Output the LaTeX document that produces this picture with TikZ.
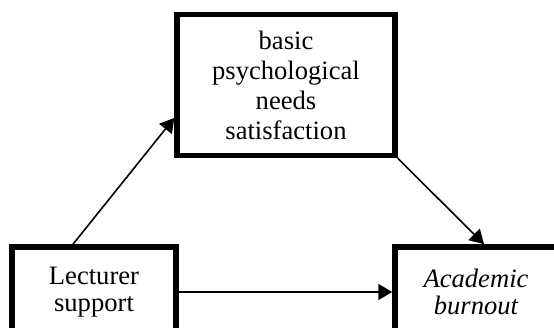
\documentclass[tikz,border=0pt]{standalone}
\usepackage{fontspec}
\setmainfont{Liberation Serif}
\usetikzlibrary{arrows.meta}

\begin{document}
\begin{tikzpicture}[x=1pt,y=1pt,
  box/.style={draw,line width=5.5pt,rectangle,align=center,inner sep=0pt},
  link/.style={-{Triangle[length=14pt,width=16pt]},line width=1.6pt}]
\useasboundingbox (0,0) rectangle (554,328);

%boxes
\node[box,minimum width=218,minimum height=141,font=\fontsize{26.6}{30}\selectfont] (needs) at (286,243)
  {basic\\psychological\\needs\\satisfaction};
\node[box,minimum width=164,minimum height=90,font=\fontsize{26.6}{27}\selectfont] (support) at (94,36)
  {Lecturer\\support};
\node[box,minimum width=162,minimum height=90,font=\fontsize{26.6}{27}\selectfont\itshape] (burnout) at (476,36)
  {Academic\\burnout};

%paths
\draw[link] ([xshift=-21pt]support.north) -- ([yshift=-33pt]needs.west);
\draw[link] (needs.south east) -- ([xshift=8pt]burnout.north);
\draw[link] (support.east) -- (burnout.west);
\end{tikzpicture}
\end{document}
